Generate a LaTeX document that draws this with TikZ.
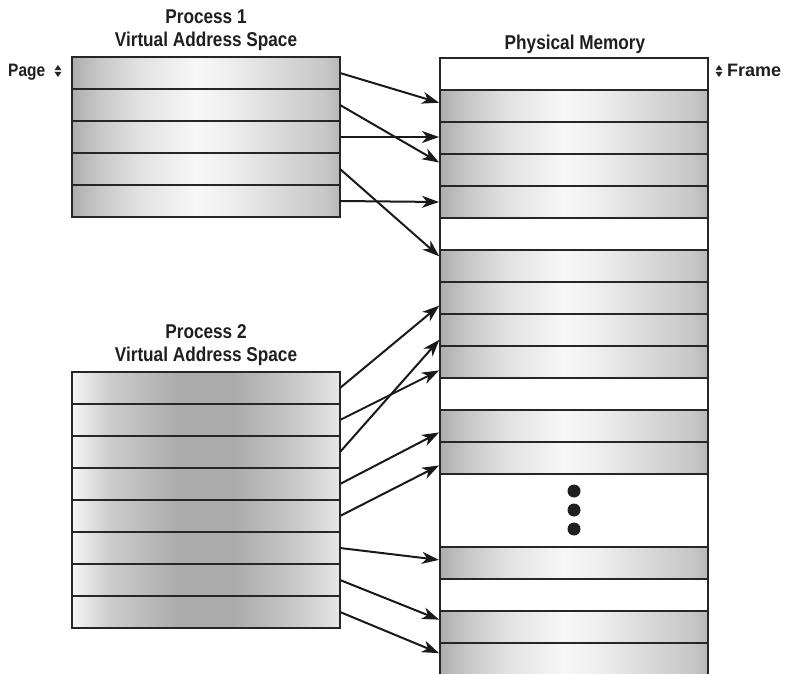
\documentclass[tikz,border=0pt]{standalone}
\usepackage{fontspec}
\setmainfont{Liberation Sans}[FakeStretch=0.86]
\newfontfamily\widesans{Liberation Sans}
\usetikzlibrary{arrows.meta}
\pgfdeclarehorizontalshading{pashade}{100bp}{color(0bp)=(black!32); color(25bp)=(black!32); color(30bp)=(black!22); color(37bp)=(black!12); color(48bp)=(black!3); color(55bp)=(black!7); color(65bp)=(black!16); color(72bp)=(black!22); color(75bp)=(black!28); color(100bp)=(black!28)}
\pgfdeclarehorizontalshading{pbshade}{100bp}{color(0bp)=(black!4); color(25bp)=(black!4); color(32bp)=(black!20); color(45bp)=(black!33); color(55bp)=(black!33); color(66bp)=(black!22); color(75bp)=(black!10); color(100bp)=(black!10)}
\begin{document}
\begin{tikzpicture}[x=1pt,y=-1pt,
  box/.style={draw=black!85, line width=1.9pt, inner sep=0pt, outer sep=0pt, minimum height=32pt, minimum width=268pt},
  prow/.style={box, shading=pashade},
  qrow/.style={box, shading=pbshade},
  gfr/.style={box, shading=pashade},
  wfr/.style={box, fill=white},
  arr/.style={line width=2pt, draw=black!90, -{Stealth[length=17pt,width=12pt,inset=5pt]}, shorten >=1pt},
  ttl/.style={font=\fontsize{20}{23}\selectfont\bfseries, align=center, inner sep=0pt, text=black!88},
  lbl/.style={font=\fontsize{18}{21}\selectfont\bfseries, inner sep=0pt, text=black!88},
  updn/.pic={\fill[black!85] (0,-6) -- (3.5,-0.8) -- (-3.5,-0.8) -- cycle;
             \fill[black!85] (-3.5,0.8) -- (3.5,0.8) -- (0,6) -- cycle;}
]
\useasboundingbox (0,0) rectangle (785,674);
\fill[white] (0,0) rectangle (785,674);

% Process 1 pages
\foreach \k in {1,...,5} \node[prow] (a\k) at (206,{41+32*\k}) {};
% Process 2 pages
\foreach \k in {1,...,8} \node[qrow] (b\k) at (206,{356+32*\k}) {};

% Physical memory frames
\foreach \i/\c/\h in {0/74/32, 5/234/32, 10/394/32, 13/510.5/73, 15/595/32}
  \node[wfr, minimum height=\h pt] (f\i) at (574,\c) {};
\foreach \i/\c/\h in {1/106/32, 2/138/32, 3/170/32, 4/202/32, 6/266/32, 7/298/32, 8/330/32, 9/362/32, 11/426/32, 12/458/32, 14/563/32, 16/627/32, 17/659.5/33}
  \node[gfr, minimum height=\h pt] (f\i) at (574,\c) {};

% dots
\fill[black!88] (574,491) circle[radius=6.5pt];
\fill[black!88] (574,510) circle[radius=6.5pt];
\fill[black!88] (574,529) circle[radius=6.5pt];

% arrows process 1
\draw[arr] (a1.east) -- ([yshift=3pt]f1.west);
\draw[arr] (a2.east) -- ([yshift=7pt]f3.west);
\draw[arr] (a3.east) -- ([yshift=1pt]f2.west);
\draw[arr] (a4.east) -- ([yshift=9pt]f6.west);
\draw[arr] (a5.east) -- (f4.west);
% arrows process 2
\draw[arr] (b1.east) -- ([yshift=-7pt]f7.west);
\draw[arr] (b2.east) -- ([yshift=-8pt]f9.west);
\draw[arr] (b3.east) -- ([yshift=-9pt]f8.west);
\draw[arr] (b4.east) -- ([yshift=-6pt]f11.west);
\draw[arr] (b5.east) -- ([yshift=-7pt]f12.west);
\draw[arr] (b6.east) -- ([yshift=3pt]f14.west);
\draw[arr] (b7.east) -- ([yshift=7pt]f16.west);
\draw[arr] (b8.east) -- ([yshift=6pt]f17.west);

% labels
\node[ttl] (t1) at (206,30) {Process 1\\Virtual Address Space};
\node[ttl] (t2) at (206,345) {Process 2\\Virtual Address Space};
\node[ttl, anchor=base] (t3) at (575,50) {Physical Memory};
\node[lbl, anchor=base west] (pg) at (8,77) {Page};
\node[lbl, anchor=base west] (fr) at (727,77) {\widesans Frame};
\pic at (58,71) {updn};
\pic at (719,71) {updn};
\end{tikzpicture}
\end{document}
